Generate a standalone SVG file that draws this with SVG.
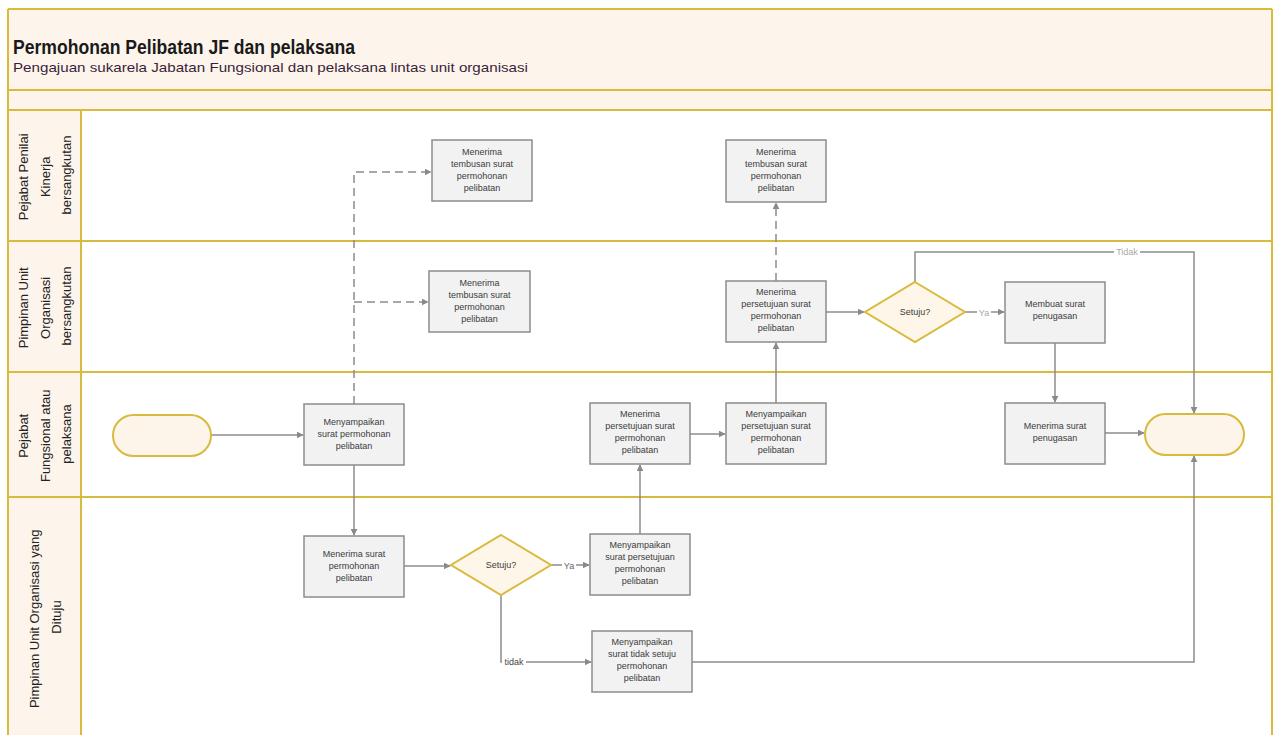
<svg xmlns="http://www.w3.org/2000/svg" width="1274" height="735" viewBox="0 0 1274 735">
  <defs>
    <marker id="arrow" viewBox="0 0 10 10" refX="9" refY="5" markerWidth="7" markerHeight="7" markerUnits="userSpaceOnUse" orient="auto">
      <path d="M0,0 L10,5 L0,10 z" fill="#8a8a8a"/>
    </marker>
    <style>
      .band { fill: #fdf5ec; }
      .lane { fill: #ffffff; }
      .gold { stroke: #d8ba3c; stroke-width: 2; fill: none; }
      .title { font-family: "Liberation Sans", Arial, sans-serif; font-weight: bold; font-size: 21px; fill: #1a1a1a; }
      .subtitle { font-family: "Liberation Sans", Arial, sans-serif; font-size: 13px; fill: #3a1f3a; }
      .lanelabel { font-family: "Liberation Sans", Arial, sans-serif; font-size: 13px; fill: #222; text-anchor: middle; }
      .box { fill: #f2f2f2; stroke: #8c8c8c; stroke-width: 1.5; }
      .term { fill: #fef5ea; stroke: #d8ba3c; stroke-width: 2; }
      .dec { fill: #fef6e8; stroke: #d8ba3c; stroke-width: 2; }
      .btext { font-family: "Liberation Sans", Arial, sans-serif; font-size: 9px; fill: #3c3c3c; text-anchor: middle; }
      .conn { fill: none; stroke: #8c8c8c; stroke-width: 1.5; marker-end: url(#arrow); }
      .dash { stroke-dasharray: 8 5; }
      .clabel { font-family: "Liberation Sans", Arial, sans-serif; font-size: 9px; text-anchor: middle; }
    </style>
  </defs>

  <!-- background -->
  <rect x="0" y="0" width="1274" height="735" fill="#ffffff"/>

  <!-- pool header and lanes -->
  <g id="pool">
    <rect class="band" x="8" y="9" width="1264" height="101"/>
    <rect class="band" x="8" y="110" width="73" height="625"/>
    <rect class="lane" x="81" y="110" width="1191" height="625"/>
    <path class="gold" d="M8,9 H1272 M8,9 V735 M1272,9 V735 M8,90 H1272 M8,110 H1272 M81,110 V735 M8,241 H1272 M8,372 H1272 M8,497 H1272"/>
    <text class="title" x="13" y="54" textLength="342" lengthAdjust="spacingAndGlyphs">Permohonan Pelibatan JF dan pelaksana</text>
    <text class="subtitle" x="13" y="72" textLength="515" lengthAdjust="spacingAndGlyphs">Pengajuan sukarela Jabatan Fungsional dan pelaksana lintas unit organisasi</text>
  </g>

  <g id="lane-penilai">
    <text class="lanelabel" transform="translate(44,175) rotate(-90)">
      <tspan x="0" y="-16">Pejabat Penilai</tspan>
      <tspan x="0" y="5.5">Kinerja</tspan>
      <tspan x="0" y="27">bersangkutan</tspan>
    </text>
  </g>
  <g id="lane-pimpinan-asal">
    <text class="lanelabel" transform="translate(44,306) rotate(-90)">
      <tspan x="0" y="-16">Pimpinan Unit</tspan>
      <tspan x="0" y="5.5">Organisasi</tspan>
      <tspan x="0" y="27">bersangkutan</tspan>
    </text>
  </g>
  <g id="lane-pejabat">
    <text class="lanelabel" transform="translate(44,434) rotate(-90)">
      <tspan x="0" y="-16">Pejabat</tspan>
      <tspan x="0" y="5.5">Fungsional atau</tspan>
      <tspan x="0" y="27">pelaksana</tspan>
    </text>
  </g>
  <g id="lane-pimpinan-tujuan">
    <text class="lanelabel" transform="translate(44,617) rotate(-90)">
      <tspan x="0" y="-5.5">Pimpinan Unit Organisasi yang</tspan>
      <tspan x="0" y="17">Dituju</tspan>
    </text>
  </g>

  <!-- connectors -->
  <g id="connectors">
    <path class="conn" d="M211,435 H303"/>
    <path class="conn" d="M354,465 V535"/>
    <path class="conn dash" d="M354,404 V172 H431"/>
    <path class="conn dash" d="M354,302 H428"/>
    <path class="conn" d="M404,566 H450"/>
    <path class="conn" d="M551,565 H589"/>
    <path class="conn" d="M501,595 V662 H591"/>
    <path class="conn" d="M692,662 H1194 V456"/>
    <path class="conn" d="M640,534 V465"/>
    <path class="conn" d="M690,434 H725"/>
    <path class="conn" d="M776,403 V343"/>
    <path class="conn dash" d="M776,281 V203"/>
    <path class="conn" d="M826,312 H864"/>
    <path class="conn" d="M965,312 H1004"/>
    <path class="conn" d="M915,282 V252 H1194 V413"/>
    <path class="conn" d="M1055,343 V402"/>
    <path class="conn" d="M1105,433 H1144"/>

    <rect x="562" y="561" width="14" height="10" fill="#ffffff"/>
    <text class="clabel" x="569" y="569" fill="#666">Ya</text>
    <rect x="502" y="657" width="24" height="11" fill="#ffffff"/>
    <text class="clabel" x="514" y="665" fill="#444">tidak</text>
    <rect x="977" y="308" width="14" height="10" fill="#ffffff"/>
    <text class="clabel" x="984" y="316" fill="#aaa">Ya</text>
    <rect x="1114" y="247" width="26" height="10" fill="#ffffff"/>
    <text class="clabel" x="1127" y="255" fill="#aaa">Tidak</text>
  </g>

  <!-- nodes -->
  <g id="start">
    <rect class="term" x="113" y="415" width="98" height="41" rx="20.5"/>
  </g>
  <g id="end">
    <rect class="term" x="1145" y="414" width="99" height="41" rx="20.5"/>
  </g>

  <g id="n-menyampaikan-permohonan">
    <rect class="box" x="304" y="404" width="100" height="61"/>
    <text class="btext"><tspan x="354" y="425">Menyampaikan</tspan><tspan x="354" y="437">surat permohonan</tspan><tspan x="354" y="449">pelibatan</tspan></text>
  </g>
  <g id="n-tembusan-penilai-1">
    <rect class="box" x="432" y="140" width="100" height="61"/>
    <text class="btext"><tspan x="482" y="155">Menerima</tspan><tspan x="482" y="167">tembusan surat</tspan><tspan x="482" y="179">permohonan</tspan><tspan x="482" y="191">pelibatan</tspan></text>
  </g>
  <g id="n-tembusan-pimpinan">
    <rect class="box" x="429" y="271" width="101" height="61"/>
    <text class="btext"><tspan x="479.5" y="286">Menerima</tspan><tspan x="479.5" y="298">tembusan surat</tspan><tspan x="479.5" y="310">permohonan</tspan><tspan x="479.5" y="322">pelibatan</tspan></text>
  </g>
  <g id="n-menerima-permohonan">
    <rect class="box" x="304" y="536" width="100" height="61"/>
    <text class="btext"><tspan x="354" y="557">Menerima surat</tspan><tspan x="354" y="569">permohonan</tspan><tspan x="354" y="581">pelibatan</tspan></text>
  </g>
  <g id="d-setuju-1">
    <polygon class="dec" points="501,535 551,565 501,595 451,565"/>
    <text class="btext" x="501" y="568" font-size="10">Setuju?</text>
  </g>
  <g id="n-persetujuan-kirim">
    <rect class="box" x="590" y="534" width="100" height="61"/>
    <text class="btext"><tspan x="640" y="548">Menyampaikan</tspan><tspan x="640" y="560">surat persetujuan</tspan><tspan x="640" y="572">permohonan</tspan><tspan x="640" y="584">pelibatan</tspan></text>
  </g>
  <g id="n-tidak-setuju">
    <rect class="box" x="592" y="631" width="100" height="61"/>
    <text class="btext"><tspan x="642" y="645">Menyampaikan</tspan><tspan x="642" y="657">surat tidak setuju</tspan><tspan x="642" y="669">permohonan</tspan><tspan x="642" y="681">pelibatan</tspan></text>
  </g>
  <g id="n-terima-persetujuan-pejabat">
    <rect class="box" x="590" y="403" width="100" height="61"/>
    <text class="btext"><tspan x="640" y="417">Menerima</tspan><tspan x="640" y="429">persetujuan surat</tspan><tspan x="640" y="441">permohonan</tspan><tspan x="640" y="453">pelibatan</tspan></text>
  </g>
  <g id="n-teruskan-persetujuan">
    <rect class="box" x="726" y="403" width="100" height="61"/>
    <text class="btext"><tspan x="776" y="417">Menyampaikan</tspan><tspan x="776" y="429">persetujuan surat</tspan><tspan x="776" y="441">permohonan</tspan><tspan x="776" y="453">pelibatan</tspan></text>
  </g>
  <g id="n-terima-persetujuan-pimpinan">
    <rect class="box" x="726" y="281" width="100" height="61"/>
    <text class="btext"><tspan x="776" y="295">Menerima</tspan><tspan x="776" y="307">persetujuan surat</tspan><tspan x="776" y="319">permohonan</tspan><tspan x="776" y="331">pelibatan</tspan></text>
  </g>
  <g id="n-tembusan-penilai-2">
    <rect class="box" x="726" y="140" width="100" height="62"/>
    <text class="btext"><tspan x="776" y="155">Menerima</tspan><tspan x="776" y="167">tembusan surat</tspan><tspan x="776" y="179">permohonan</tspan><tspan x="776" y="191">pelibatan</tspan></text>
  </g>
  <g id="d-setuju-2">
    <polygon class="dec" points="915,282 965,312 915,342 865,312"/>
    <text class="btext" x="915" y="315" font-size="10">Setuju?</text>
  </g>
  <g id="n-buat-penugasan">
    <rect class="box" x="1005" y="282" width="100" height="61"/>
    <text class="btext"><tspan x="1055" y="307">Membuat surat</tspan><tspan x="1055" y="319">penugasan</tspan></text>
  </g>
  <g id="n-terima-penugasan">
    <rect class="box" x="1005" y="403" width="100" height="61"/>
    <text class="btext"><tspan x="1055" y="429">Menerima surat</tspan><tspan x="1055" y="441">penugasan</tspan></text>
  </g>
</svg>
